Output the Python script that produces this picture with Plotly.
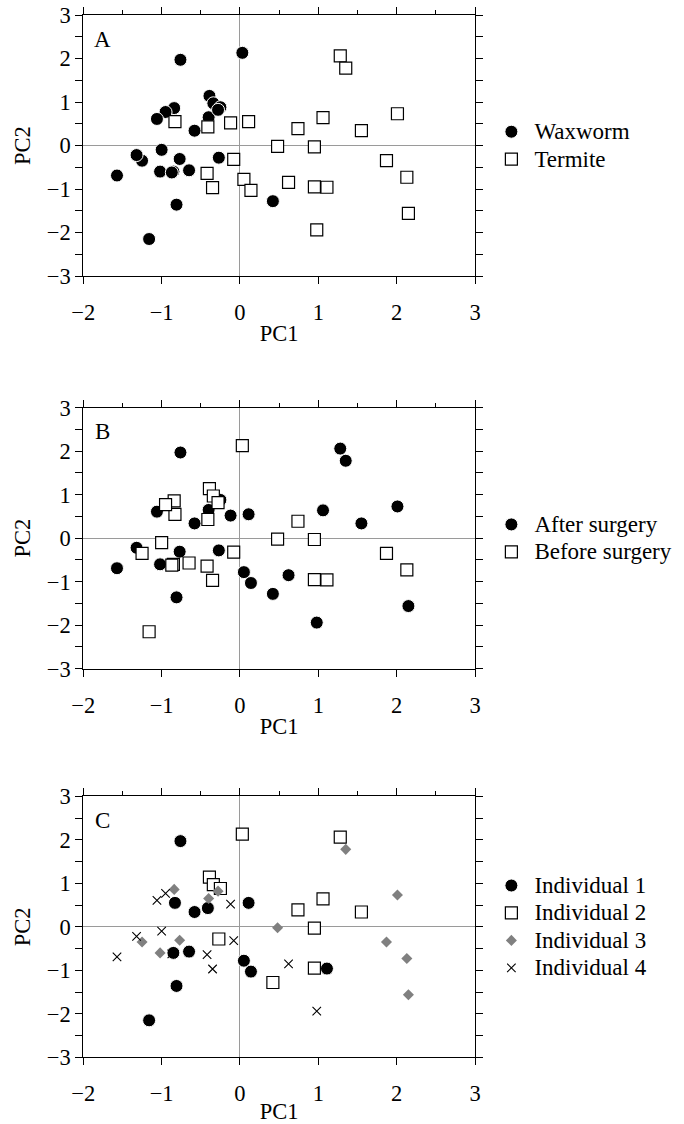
import plotly.graph_objects as go

# ---- data (PC scores, one entry per observation) ----
pc1 = [
    # individual 1
    -0.76, -0.83, -0.58, -0.41, 0.11, -0.85, -0.65, 0.05, 0.14, 1.11, -0.81, -1.16,
    # individual 2
    0.03, 1.28, -0.39, -0.34, -0.25, 1.06, 0.74, 1.55, 0.95, -0.27, 0.95, 0.42,
    # individual 3
    1.35, 2.01, -0.84, -0.40, -0.28, 0.48, -1.25, -0.77, -1.02, 1.87, 2.13, 2.15,
    # individual 4
    -0.95, -1.06, -0.12, -1.00, -1.32, -0.08, -1.57, -0.87, -0.42, -0.35, 0.62, 0.98,
]
pc2 = [
    1.97, 0.55, 0.34, 0.43, 0.55, -0.60, -0.57, -0.78, -1.03, -0.96, -1.36, -2.15,
    2.13, 2.06, 1.14, 0.97, 0.88, 0.64, 0.39, 0.34, -0.03, -0.28, -0.95, -1.28,
    1.78, 0.73, 0.86, 0.65, 0.82, -0.02, -0.35, -0.31, -0.60, -0.35, -0.73, -1.56,
    0.77, 0.61, 0.52, -0.10, -0.22, -0.32, -0.69, -0.62, -0.64, -0.97, -0.85, -1.94,
]
diet = [
    "W", "T", "W", "T", "T", "W", "W", "T", "T", "T", "W", "W",
    "W", "T", "W", "W", "W", "T", "T", "T", "T", "W", "T", "W",
    "T", "T", "W", "W", "W", "T", "W", "W", "W", "T", "T", "T",
    "W", "W", "T", "W", "W", "T", "W", "W", "T", "T", "T", "T",
]
surgery = [
    "A", "B", "A", "B", "A", "B", "B", "A", "A", "B", "A", "B",
    "B", "A", "B", "B", "A", "A", "B", "A", "B", "A", "B", "A",
    "A", "A", "B", "A", "B", "B", "B", "A", "A", "B", "B", "A",
    "B", "A", "A", "B", "A", "B", "A", "B", "B", "B", "A", "A",
]
individual = [1] * 12 + [2] * 12 + [3] * 12 + [4] * 12

diet_names = {"W": "Waxworm", "T": "Termite"}
surgery_names = {"A": "After surgery", "B": "Before surgery"}
individual_names = {1: "Individual 1", 2: "Individual 2", 3: "Individual 3", 4: "Individual 4"}
panel_labels = ["A", "B", "C"]

FONT = "Liberation Serif, Times New Roman, serif"
FS = 22.5      # tick labels / axis titles
LEG_FS = 23    # legend text
LEG_ROW = 18.8 # legend font size that sets the row pitch

circle = dict(symbol="circle", size=13, color="black", line=dict(color="white", width=1))
square = dict(symbol="square", size=12, color="white", line=dict(color="black", width=1.2))
diamond = dict(symbol="diamond", size=8.5, color="#808080", line=dict(color="#808080", width=0))
cross = dict(symbol="x-thin", size=8.5, color="black", line=dict(color="black", width=1.1))


def pick(group, key):
    idx = [i for i, g in enumerate(group) if g == key]
    return [pc1[i] for i in idx], [pc2[i] for i in idx]


def leg_name(s):
    return f"<span style='font-size:{LEG_FS}px'>{s}</span>"


fig = go.Figure()

# Panel A
for key, mk in [("W", circle), ("T", square)]:
    x, y = pick(diet, key)
    fig.add_trace(go.Scatter(x=x, y=y, mode="markers", marker=mk, name=leg_name(diet_names[key]),
                             xaxis="x", yaxis="y", legend="legend"))
# Panel B
for key, mk in [("A", circle), ("B", square)]:
    x, y = pick(surgery, key)
    fig.add_trace(go.Scatter(x=x, y=y, mode="markers", marker=mk, name=leg_name(surgery_names[key]),
                             xaxis="x2", yaxis="y2", legend="legend2"))
# Panel C
for key, mk in [(1, circle), (2, square), (3, diamond), (4, cross)]:
    x, y = pick(individual, key)
    fig.add_trace(go.Scatter(x=x, y=y, mode="markers", marker=mk, name=leg_name(individual_names[key]),
                             xaxis="x3", yaxis="y3", legend="legend3"))

# empty traces so that the top (minor-ticked) frame axes are drawn
for i in range(3):
    fig.add_trace(go.Scatter(x=[], y=[], xaxis=f"x{i + 4}", yaxis="y" if i == 0 else f"y{i + 1}",
                             showlegend=False, hoverinfo="skip"))

H, W = 1124, 684
x_dom = [83.3 / W, 475 / W]
y_doms = [
    [1 - 276 / H, 1 - 15 / H],
    [1 - 668.7 / H, 1 - 407.7 / H],
    [1 - 1057.3 / H, 1 - 796.3 / H],
]

line_common = dict(showgrid=False, showline=True, linecolor="black", linewidth=1.2,
                   ticks="outside", ticklen=7, tickwidth=1.2, tickcolor="black",
                   dtick=1, automargin=False,
                   tickfont=dict(family=FONT, size=FS, color="black"))
minor = dict(dtick=0.5, ticks="outside", ticklen=4, tickwidth=1.2, tickcolor="black", showgrid=False)

layout = dict(
    template="none",
    width=W, height=H, margin=dict(l=0, r=0, t=0, b=0, autoexpand=False),
    paper_bgcolor="white", plot_bgcolor="white",
    font=dict(family=FONT, size=FS, color="black"),
    showlegend=True,
)
annotations = []
for i in range(3):
    sx = "" if i == 0 else str(i + 1)
    layout["xaxis" + sx] = dict(line_common, domain=x_dom, range=[-2, 3], anchor="y" + sx, side="bottom",
                                zeroline=True, zerolinecolor="#9a9a9a", zerolinewidth=1,
                                mirror=False, ticklabelstandoff=9,
                                title=dict(text="PC1", font=dict(family=FONT, size=FS), standoff=1))
    layout[f"xaxis{i + 4}"] = dict(line_common, domain=x_dom, range=[-2, 3], anchor="y" + sx,
                                   overlaying="x" + sx, side="top", showticklabels=False,
                                   zeroline=False, minor=minor)
    layout["yaxis" + sx] = dict(line_common, domain=y_doms[i], range=[-3, 3], anchor="x" + sx,
                                zeroline=True, zerolinecolor="#9a9a9a", zerolinewidth=1,
                                mirror="allticks", minor=minor,
                                title=dict(text="PC2", font=dict(family=FONT, size=FS), standoff=9))
    ymid = (y_doms[i][0] + y_doms[i][1]) / 2
    layout["legend" + sx] = dict(x=0.714, xanchor="left", y=ymid, yanchor="middle",
                                 font=dict(family=FONT, size=LEG_ROW, color="black"),
                                 bgcolor="rgba(0,0,0,0)", borderwidth=0,
                                 itemwidth=36, tracegroupgap=0)
    annotations.append(dict(text=panel_labels[i], xref=f"x{sx} domain", yref=f"y{sx} domain",
                            x=0.048, y=0.907, xanchor="center", yanchor="middle", showarrow=False,
                            font=dict(family=FONT, size=LEG_FS, color="black")))
layout["annotations"] = annotations
fig.update_layout(**layout)

fig.write_html("out.html")
